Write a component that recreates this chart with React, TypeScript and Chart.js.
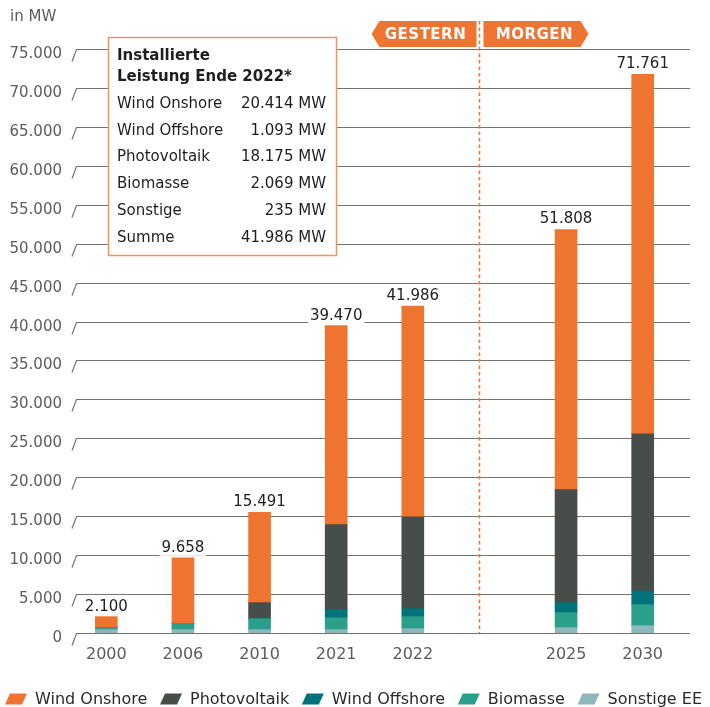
import React, { useEffect, useRef } from 'react';
import { Chart, registerables } from 'chart.js';

Chart.register(...registerables);

// ---- data ----
const categories = ['2000', '2006', '2010', '2021', '2022', '', '2025', '2030'];
const windOnshore = [1370, 8418, 11596, 25560, 27051, null, 33403, 46186];
const photovoltaik = [0, 0, 2055, 10870, 11815, null, 14510, 20180];
const windOffshore = [0, 0, 0, 1070, 1030, null, 1284, 1755];
const biomasse = [300, 810, 1410, 1540, 1540, null, 1926, 2700];
const sonstigeEE = [430, 430, 430, 430, 550, null, 685, 940];
const totalLabels = ['2.100', '9.658', '15.491', '39.470', '41.986', '', '51.808', '71.761'];
const yTicks = [0, 5000, 10000, 15000, 20000, 25000, 30000, 35000, 40000, 45000, 50000, 55000, 60000, 65000, 70000, 75000];
const boxTitle = ['Installierte', 'Leistung Ende 2022*'];
const boxLabels = ['Wind Onshore', 'Wind Offshore', 'Photovoltaik', 'Biomasse', 'Sonstige', 'Summe'];
const boxValues = ['20.414 MW', '1.093 MW', '18.175 MW', '2.069 MW', '235 MW', '41.986 MW'];
const legendLabels = ['Wind Onshore', 'Photovoltaik', 'Wind Offshore', 'Biomasse', 'Sonstige EE'];
const pastLabel = 'GESTERN';
const futureLabel = 'MORGEN';
const unitLabel = 'in MW';

// ---- styles ----
const C_ONSHORE = '#EF7430';
const C_PV = '#474D48';
const C_OFFSHORE = '#00737A';
const C_BIO = '#2A9F8A';
const C_SONST = '#8EB7BC';
const legendColors = [C_ONSHORE, C_PV, C_OFFSHORE, C_BIO, C_SONST];
const FONT = '"DejaVu Sans", "Noto Sans", sans-serif';
const GRAY = '#5c5c5c';

const fmt = (v: number) => String(v).replace(/\B(?=(\d{3})+(?!\d))/g, '.');

const decoPlugin = {
  id: 'deco',
  beforeDatasetsDraw(chart: any) {
    const { ctx, chartArea, scales } = chart;
    const y = scales.y;
    const x = scales.x;
    ctx.save();
    ctx.fillStyle = GRAY;
    ctx.font = `15px ${FONT}`;
    ctx.textBaseline = 'middle';
    ctx.textAlign = 'left';
    ctx.fillText(unitLabel, 10, 17);
    for (const v of yTicks) {
      const py = Math.round(y.getPixelForValue(v)) + 0.5;
      ctx.strokeStyle = '#74746e';
      ctx.lineWidth = 1.2;
      ctx.beginPath();
      ctx.moveTo(chartArea.left + 4, py + 12);
      ctx.lineTo(chartArea.left + 8.5, py);
      ctx.lineTo(chartArea.right + 9, py);
      ctx.stroke();
      ctx.textAlign = 'right';
      ctx.fillStyle = GRAY;
      ctx.fillText(fmt(v), chartArea.left - 6, py + 5);
    }
    ctx.textAlign = 'center';
    ctx.font = `16px ${FONT}`;
    categories.forEach((c, i) => {
      if (c) ctx.fillText(c, x.getPixelForValue(i), chartArea.bottom + 22);
    });
    ctx.restore();
  },
  afterDatasetsDraw(chart: any) {
    const { ctx, chartArea, scales } = chart;
    const y = scales.y;
    const x = scales.x;
    ctx.save();
    // total labels
    ctx.font = `15px ${FONT}`;
    ctx.textAlign = 'center';
    ctx.textBaseline = 'middle';
    categories.forEach((c, i) => {
      if (!c) return;
      const tot = [windOnshore, photovoltaik, windOffshore, biomasse, sonstigeEE].reduce((s, arr) => s + (arr[i] || 0), 0);
      const px = x.getPixelForValue(i);
      const py = y.getPixelForValue(tot) - 10;
      const w = ctx.measureText(totalLabels[i]).width;
      ctx.fillStyle = '#ffffff';
      ctx.fillRect(px - w / 2 - 2, py - 8, w + 4, 16);
      ctx.fillStyle = '#222222';
      ctx.fillText(totalLabels[i], px, py);
    });

    // dashed divider
    const dx = Math.round(x.getPixelForValue(5)) - 9.5;
    ctx.strokeStyle = C_ONSHORE;
    ctx.lineWidth = 1.5;
    ctx.setLineDash([3.5, 3]);
    ctx.beginPath();
    ctx.moveTo(dx, 21);
    ctx.lineTo(dx, chartArea.bottom);
    ctx.stroke();
    ctx.setLineDash([]);

    // tags
    const tTop = 21, tBot = 47, tMid = 34;
    ctx.fillStyle = C_ONSHORE;
    ctx.beginPath();
    ctx.moveTo(dx - 108, tMid);
    ctx.lineTo(dx - 100, tTop);
    ctx.lineTo(dx - 3, tTop);
    ctx.lineTo(dx - 3, tBot);
    ctx.lineTo(dx - 100, tBot);
    ctx.closePath();
    ctx.fill();
    ctx.beginPath();
    ctx.moveTo(dx + 4, tTop);
    ctx.lineTo(dx + 101, tTop);
    ctx.lineTo(dx + 109, tMid);
    ctx.lineTo(dx + 101, tBot);
    ctx.lineTo(dx + 4, tBot);
    ctx.closePath();
    ctx.fill();
    ctx.fillStyle = '#ffffff';
    ctx.font = `bold 15px ${FONT}`;
    (ctx as any).letterSpacing = '0.5px';
    ctx.textAlign = 'center';
    ctx.fillText(pastLabel, dx - 54, tMid + 1);
    ctx.fillText(futureLabel, dx + 55, tMid + 1);
    (ctx as any).letterSpacing = '0px';

    // info box
    const bx = 108, by = 37, bw = 228, bh = 218;
    ctx.fillStyle = '#ffffff';
    ctx.fillRect(bx, by, bw, bh);
    ctx.strokeStyle = '#F2935A';
    ctx.lineWidth = 1.5;
    ctx.strokeRect(bx + 0.5, by + 0.5, bw, bh);
    ctx.fillStyle = '#1e1e1e';
    ctx.textAlign = 'left';
    ctx.font = `bold 15px ${FONT}`;
    ctx.fillText(boxTitle[0], bx + 9, 56);
    ctx.fillText(boxTitle[1], bx + 9, 77);
    ctx.font = `15px ${FONT}`;
    boxLabels.forEach((l, i) => {
      const ry = 104 + i * 26.8;
      ctx.textAlign = 'left';
      ctx.fillText(l, bx + 9, ry);
      ctx.textAlign = 'right';
      ctx.fillText(boxValues[i], bx + bw - 10, ry);
    });

    // legend
    ctx.font = `16px ${FONT}`;
    ctx.textAlign = 'left';
    const mw = 22, gap = 8;
    const widths = legendLabels.map((l) => mw + gap + ctx.measureText(l).width);
    const total = widths.reduce((a, b) => a + b, 0);
    const spacing = (702 - 5 - total) / (legendLabels.length - 1);
    let lx = 5;
    const ly = 699;
    legendLabels.forEach((l, i) => {
      ctx.fillStyle = legendColors[i];
      ctx.beginPath();
      ctx.moveTo(lx + 5, ly - 5.5);
      ctx.lineTo(lx + mw, ly - 5.5);
      ctx.lineTo(lx + mw - 5, ly + 5.5);
      ctx.lineTo(lx, ly + 5.5);
      ctx.closePath();
      ctx.fill();
      ctx.fillStyle = '#2a2a2a';
      ctx.fillText(l, lx + mw + gap, ly + 1);
      lx += widths[i] + spacing;
    });
    ctx.restore();
  },
};

export default function App() {
  const ref = useRef<HTMLCanvasElement | null>(null);
  useEffect(() => {
    document.body.style.margin = '0';
    const canvas = ref.current;
    if (!canvas) return;
    const mk = (label: string, data: (number | null)[], color: string) => ({
      label,
      data,
      backgroundColor: color,
      borderWidth: 0,
      barThickness: 22,
    });
    const chart = new Chart(canvas, {
      type: 'bar',
      data: {
        labels: categories,
        datasets: [
          mk('Sonstige EE', sonstigeEE, C_SONST),
          mk('Biomasse', biomasse, C_BIO),
          mk('Wind Offshore', windOffshore, C_OFFSHORE),
          mk('Photovoltaik', photovoltaik, C_PV),
          mk('Wind Onshore', windOnshore, C_ONSHORE),
        ] as any,
      },
      options: {
        responsive: false,
        maintainAspectRatio: false,
        animation: false,
        devicePixelRatio: 1,
        layout: { padding: { left: 68, right: 29, top: 49, bottom: 74 } },
        plugins: { legend: { display: false }, tooltip: { enabled: false } },
        scales: {
          x: { display: false, stacked: true },
          y: { display: false, stacked: true, min: 0, max: 75000 },
        },
      } as any,
      plugins: [decoPlugin],
    });
    return () => chart.destroy();
  }, []);
  return (
    <div style={{ width: 710, height: 707, background: '#ffffff' }}>
      <canvas ref={ref} width={710} height={707} style={{ display: 'block' }} />
    </div>
  );
}
